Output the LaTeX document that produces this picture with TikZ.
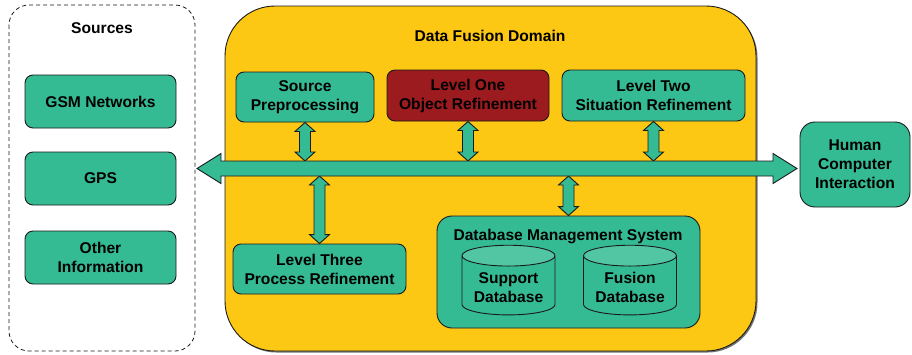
\documentclass[tikz,border=0pt]{standalone}
\usepackage{fontspec}
\setmainfont{Liberation Sans}
\usetikzlibrary{shapes.geometric,calc}

\definecolor{boxgreen}{HTML}{35BB93}
\definecolor{dbtop}{HTML}{52C6A3}
\definecolor{domainyellow}{HTML}{FCC813}
\definecolor{levelred}{HTML}{9B1B1F}
\definecolor{edge}{HTML}{1A1A1A}

% vertical double arrow between a top point and a bottom point
\newcommand\vlink[2]{%
  \path[linkfill] let \p1=(#1), \p2=(#2) in
    (\x1,\y1) -- (\x1+10pt,\y1-9pt) -- (\x1+5.5pt,\y1-9pt) --
    (\x1+5.5pt,\y2+9pt) -- (\x1+10pt,\y2+9pt) -- (\x1,\y2) --
    (\x1-10pt,\y2+9pt) -- (\x1-5.5pt,\y2+9pt) --
    (\x1-5.5pt,\y1-9pt) -- (\x1-10pt,\y1-9pt) -- cycle;}

% horizontal double arrow between a left point and a right point
\newcommand\hlink[2]{%
  \path[linkfill] let \p1=(#1), \p2=(#2) in
    (\x1,\y1) -- (\x1+24pt,\y1+15pt) -- (\x1+24pt,\y1+7.5pt) --
    (\x2-24pt,\y1+7.5pt) -- (\x2-24pt,\y1+15pt) -- (\x2,\y1) --
    (\x2-24pt,\y1-15pt) -- (\x2-24pt,\y1-7.5pt) --
    (\x1+24pt,\y1-7.5pt) -- (\x1+24pt,\y1-15pt) -- cycle;}

% two-line label lowered a little inside a database cylinder
\newcommand\dblabel[2]{\raisebox{-4pt}[\height][\depth]{%
  \begin{tabular}{@{}c@{}}#1\\#2\end{tabular}}}

\begin{document}
\begin{tikzpicture}[x=1pt,y=-1pt,
  every node/.style={font=\fontsize{15.6}{19}\selectfont\bfseries,
    align=center, text=black, inner sep=0pt},
  module/.style={draw=edge, line width=0.9pt, fill=boxgreen,
    rounded corners=8pt},
  linkfill/.style={draw=edge, line width=0.9pt, fill=boxgreen,
    line join=miter},
  dbcyl/.style={cylinder, shape border rotate=90, draw=edge,
    line width=0.9pt, aspect=0.3, cylinder uses custom fill,
    cylinder body fill=boxgreen, cylinder end fill=dbtop,
    minimum width=93pt, minimum height=65pt},
]
\useasboundingbox (0,0) rectangle (912,354);

% sources panel
\draw[edge, line width=0.8pt, dash pattern=on 4pt off 3pt,
  rounded corners=20pt] (9,5) rectangle (195,351);
\node (srctitle) at (102,28) {Sources};
\node[module, minimum width=151pt, minimum height=53pt] (gsm)
  at (100.5,101.5) {GSM Networks};
\node[module, minimum width=151pt, minimum height=53pt] (gps)
  at (100.5,178.5) {GPS};
\node[module, minimum width=151pt, minimum height=53pt] (other)
  at (100.5,257.5) {Other\\Information};

% data fusion domain with its shadow
\fill[black!55, rounded corners=50pt] (226.5,7.5) rectangle (757.5,352.5);
\draw[edge, line width=0.9pt, fill=domainyellow, rounded corners=50pt]
  (225,6) rectangle (756,351);
\node (domtitle) at (490,36) {Data Fusion Domain};

\node[module, minimum width=138pt, minimum height=50pt] (sp)
  at (305,97) {Source\\Preprocessing};
\node[module, fill=levelred, minimum width=162pt, minimum height=51pt] (l1)
  at (468,95.5) {Level One\\Object Refinement};
\node[module, minimum width=183pt, minimum height=51pt] (l2)
  at (653.5,95.5) {Level Two\\Situation Refinement};
\node[module, minimum width=173pt, minimum height=50pt] (l3)
  at (319.5,269) {Level Three\\Process Refinement};

\node[module, rounded corners=15pt, minimum width=263pt,
  minimum height=112pt] (dbms) at (568.5,272) {};
\node (dbmstitle) at (568,236) {Database Management System};
\node[dbcyl] (sdb) at (508.5,285.5) {\dblabel{Support}{Database}};
\node[dbcyl] (fdb) at (630,285.5) {\dblabel{Fusion}{Database}};

% human computer interaction
\node[module, rounded corners=15pt, minimum width=110pt,
  minimum height=85pt] (hci) at (855,164.5) {Human\\Computer\\Interaction};

% shared bus
\coordinate (busL) at (197,168.5);
\coordinate (busR) at (797,168.5);
\coordinate (busTop) at (0,161);
\coordinate (busBot) at (0,176);

\vlink{sp.south}{sp.south |- busTop}
\vlink{l1.south}{l1.south |- busTop}
\vlink{l2.south}{l2.south |- busTop}
\vlink{l3.north |- busBot}{l3.north}
\vlink{dbms.north |- busBot}{dbms.north}
\hlink{busL}{busR}
\end{tikzpicture}
\end{document}
